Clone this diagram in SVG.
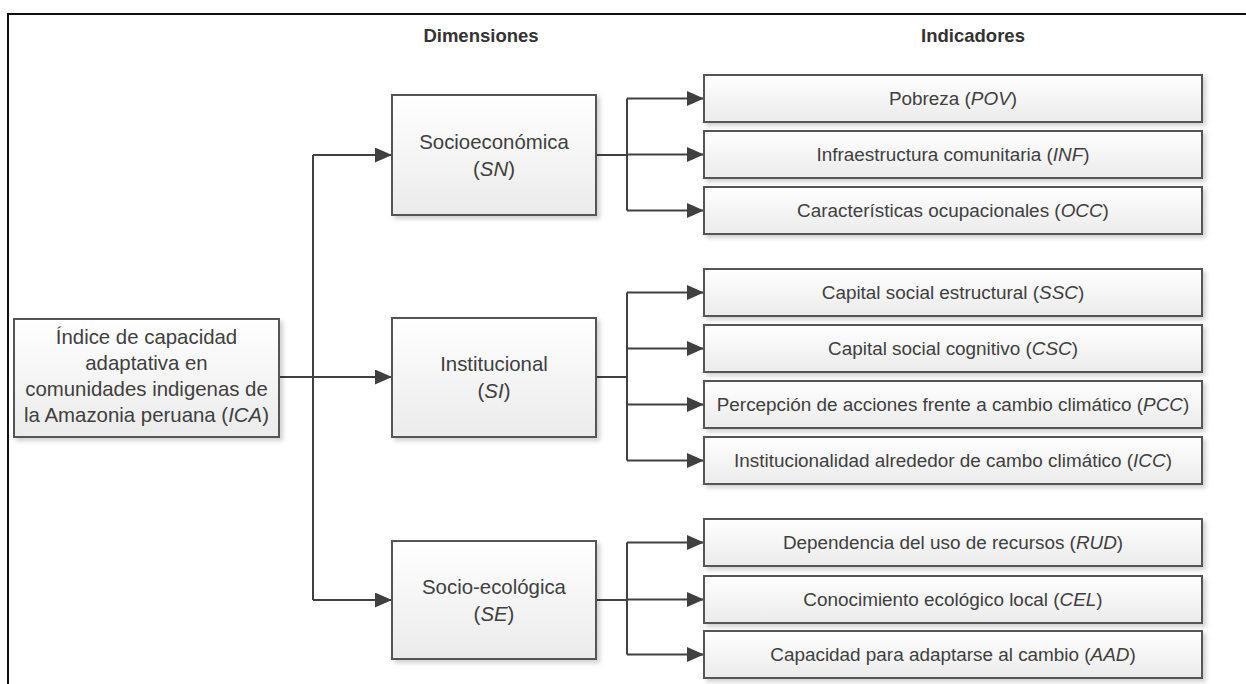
<svg xmlns="http://www.w3.org/2000/svg" width="1246" height="684" viewBox="0 0 1246 684">
  <defs>
    <linearGradient id="boxfill" x1="0" y1="0" x2="0" y2="1">
      <stop offset="0" stop-color="#ffffff"/>
      <stop offset="1" stop-color="#ebebeb"/>
    </linearGradient>
    <filter id="shadow" x="-5%" y="-10%" width="112%" height="130%">
      <feDropShadow dx="3" dy="3" stdDeviation="2" flood-color="#000000" flood-opacity="0.18"/>
    </filter>
    <marker id="arrow" markerUnits="userSpaceOnUse" markerWidth="17" markerHeight="15" viewBox="0 0 17 15" refX="17" refY="7.5" orient="auto">
      <path d="M0,0 L17,7.5 L0,15 z" fill="#404040"/>
    </marker>
    <style>
      .box { fill: url(#boxfill); stroke: #555555; stroke-width: 2; filter: url(#shadow); }
      .t { font-family: "Liberation Sans", Arial, sans-serif; fill: #404040; text-anchor: middle; }
      .dim { font-size: 20.4px; }
      .ind { font-size: 18.9px; }
      .hdr { font-size: 18.5px; font-weight: bold; fill: #333333; }
      .it { font-style: italic; }
      .c { fill: none; stroke: #404040; stroke-width: 2; }
      .a { marker-end: url(#arrow); }
    </style>
  </defs>
  <rect width="1246" height="684" fill="#ffffff"/>
  <path d="M8,684 V14 H1246" fill="none" stroke="#111111" stroke-width="2"/>

  <g id="headers">
    <text class="t hdr" x="481" y="42">Dimensiones</text>
    <text class="t hdr" x="973" y="42">Indicadores</text>
  </g>

  <g id="connectors">
    <path class="c a" d="M279,377 H392"/>
    <path class="c" d="M313,155 V600"/>
    <path class="c a" d="M313,155 H392"/>
    <path class="c a" d="M313,600 H392"/>

    <path class="c" d="M596,155 H627"/>
    <path class="c" d="M627,98.5 V210.5"/>
    <path class="c a" d="M627,98.5 H704"/>
    <path class="c a" d="M627,154.5 H704"/>
    <path class="c a" d="M627,210.5 H704"/>

    <path class="c" d="M596,377 H627"/>
    <path class="c" d="M627,292.5 V460.5"/>
    <path class="c a" d="M627,292.5 H704"/>
    <path class="c a" d="M627,348.5 H704"/>
    <path class="c a" d="M627,404.5 H704"/>
    <path class="c a" d="M627,460.5 H704"/>

    <path class="c" d="M596,600 H627"/>
    <path class="c" d="M627,542.5 V654.5"/>
    <path class="c a" d="M627,542.5 H704"/>
    <path class="c a" d="M627,599.5 H704"/>
    <path class="c a" d="M627,654.5 H704"/>
  </g>

  <g id="ICA">
    <rect class="box" x="14" y="319" width="265" height="118"/>
    <text class="t dim" x="146.5" y="344">Índice de capacidad</text>
    <text class="t dim" x="146.5" y="370">adaptativa en</text>
    <text class="t dim" x="146.5" y="396">comunidades indigenas de</text>
    <text class="t dim" x="146.5" y="422">la Amazonia peruana (<tspan class="it">ICA</tspan>)</text>
  </g>

  <g id="SN">
    <rect class="box" x="392" y="95" width="204" height="120"/>
    <text class="t dim" x="494" y="149">Socioeconómica</text>
    <text class="t dim" x="494" y="176">(<tspan class="it">SN</tspan>)</text>
  </g>
  <g id="SI">
    <rect class="box" x="392" y="318" width="204" height="119"/>
    <text class="t dim" x="494" y="371">Institucional</text>
    <text class="t dim" x="494" y="398">(<tspan class="it">SI</tspan>)</text>
  </g>
  <g id="SE">
    <rect class="box" x="392" y="541" width="204" height="118"/>
    <text class="t dim" x="494" y="594">Socio-ecológica</text>
    <text class="t dim" x="494" y="621">(<tspan class="it">SE</tspan>)</text>
  </g>

  <g id="POV">
    <rect class="box" x="704" y="75" width="498" height="47"/>
    <text class="t ind" x="953" y="105">Pobreza (<tspan class="it">POV</tspan>)</text>
  </g>
  <g id="INF">
    <rect class="box" x="704" y="131" width="498" height="47"/>
    <text class="t ind" x="953" y="161">Infraestructura comunitaria (<tspan class="it">INF</tspan>)</text>
  </g>
  <g id="OCC">
    <rect class="box" x="704" y="187" width="498" height="47"/>
    <text class="t ind" x="953" y="217">Características ocupacionales (<tspan class="it">OCC</tspan>)</text>
  </g>

  <g id="SSC">
    <rect class="box" x="704" y="269" width="498" height="47"/>
    <text class="t ind" x="953" y="299">Capital social estructural (<tspan class="it">SSC</tspan>)</text>
  </g>
  <g id="CSC">
    <rect class="box" x="704" y="325" width="498" height="47"/>
    <text class="t ind" x="953" y="355">Capital social cognitivo (<tspan class="it">CSC</tspan>)</text>
  </g>
  <g id="PCC">
    <rect class="box" x="704" y="381" width="498" height="47"/>
    <text class="t ind" x="953" y="411">Percepción de acciones frente a cambio climático (<tspan class="it">PCC</tspan>)</text>
  </g>
  <g id="ICC">
    <rect class="box" x="704" y="437" width="498" height="47"/>
    <text class="t ind" x="953" y="467">Institucionalidad alrededor de cambo climático (<tspan class="it">ICC</tspan>)</text>
  </g>

  <g id="RUD">
    <rect class="box" x="704" y="519" width="498" height="47"/>
    <text class="t ind" x="953" y="549">Dependencia del uso de recursos (<tspan class="it">RUD</tspan>)</text>
  </g>
  <g id="CEL">
    <rect class="box" x="704" y="576" width="498" height="47"/>
    <text class="t ind" x="953" y="606">Conocimiento ecológico local (<tspan class="it">CEL</tspan>)</text>
  </g>
  <g id="AAD">
    <rect class="box" x="704" y="631" width="498" height="47"/>
    <text class="t ind" x="953" y="661">Capacidad para adaptarse al cambio (<tspan class="it">AAD</tspan>)</text>
  </g>
</svg>
